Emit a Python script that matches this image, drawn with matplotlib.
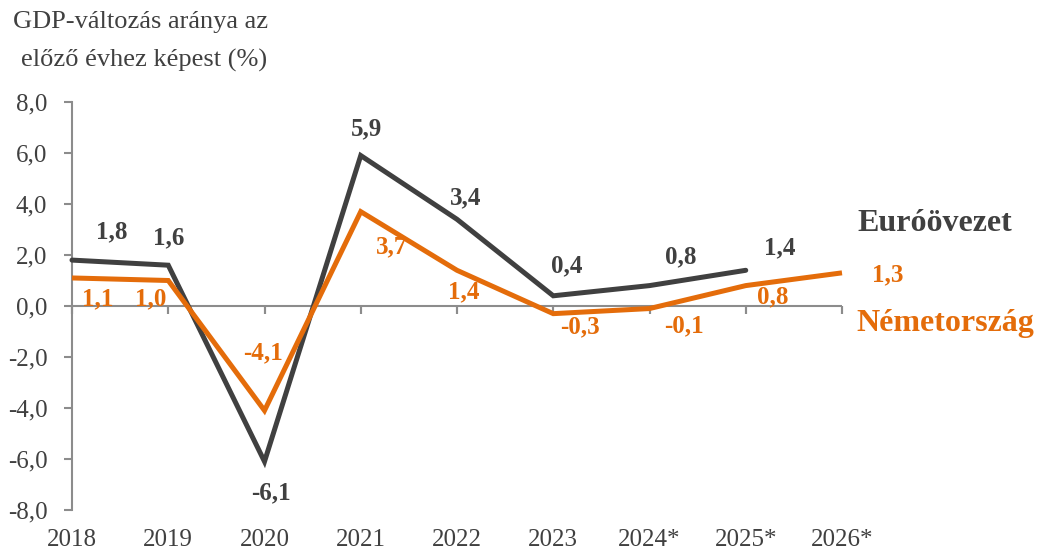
import matplotlib
matplotlib.use("Agg")
import matplotlib.pyplot as plt
import numpy as np

years = ["2018", "2019", "2020", "2021", "2022", "2023", "2024*", "2025*", "2026*"]
euro = [1.8, 1.6, -6.1, 5.9, 3.4, 0.4, 0.8, 1.4]
germany = [1.1, 1.0, -4.1, 3.7, 1.4, -0.3, -0.1, 0.8, 1.3]
yticks = [-8, -6, -4, -2, 0, 2, 4, 6, 8]

# label offsets in pixels (dx, dy), dy positive = down
euro_off = [(40, -28), (0, -27), (6, 31), (6, -27), (9, -21), (13, -30), (31, -29), (34, -22)]
ger_off = [(26, 21), (-18, 18), (-2, -58), (31, 35), (7, 22), (27, 13), (34, 17), (27, 11), (46, 2)]

DARK = "#404040"
ORANGE = "#E46C0A"
AXIS = "#8C8C8C"
FONT = "Liberation Serif"

plt.rcParams['font.family'] = [FONT, 'DejaVu Serif']

fig = plt.figure(figsize=(10.4, 5.5), dpi=100)
ax = fig.add_axes([72/1040, 1-510/550, (842-72)/1040, (510-102)/550])

x_e = np.arange(len(euro))
x_g = np.arange(len(germany))
ax.plot(x_e, euro, color=DARK, lw=3.6, solid_capstyle='round', solid_joinstyle='miter', zorder=3, clip_on=False)
ax.plot(x_g, germany, color=ORANGE, lw=3.6, solid_capstyle='butt', solid_joinstyle='miter', zorder=4, clip_on=False)

def fmt(v):
    return f"{v:.1f}".replace(".", ",")

for i, v in enumerate(euro):
    dx, dy = euro_off[i]
    ax.annotate(fmt(v), (i, v), xytext=(dx, -dy), textcoords='offset pixels',
                ha='center', va='center', fontsize=18, fontweight='bold', color=DARK, annotation_clip=False)
for i, v in enumerate(germany):
    dx, dy = ger_off[i]
    ax.annotate(fmt(v), (i, v), xytext=(dx, -dy), textcoords='offset pixels',
                ha='center', va='center', fontsize=18, fontweight='bold', color=ORANGE, annotation_clip=False)

ax.set_xlim(0, len(years) - 1)
ax.set_ylim(-8, 8)
ax.set_yticks(yticks)
ax.set_yticklabels([fmt(t) for t in yticks], fontsize=18, color=DARK)
ax.set_xticks(np.arange(len(years)))
ax.set_xticklabels([])

for s in ['top', 'right', 'bottom']:
    ax.spines[s].set_visible(False)
ax.spines['left'].set_color(AXIS)
ax.spines['left'].set_linewidth(1.5)
ax.axhline(0, color=AXIS, lw=1.5, zorder=2)
ax.tick_params(axis='y', direction='out', length=5.8, width=1.5, color=AXIS, pad=12)
ax.tick_params(axis='x', length=0)

# x tick marks on zero line, pointing down
for i in range(len(years)):
    ax.plot([i, i], [0, 0], marker=3, markersize=6, mew=1.5, color=AXIS, clip_on=False, zorder=2)

# category labels at bottom
for i, y in enumerate(years):
    ax.annotate(y, (i, -8), xytext=(0, -30), textcoords='offset pixels', ha='center', va='center',
                fontsize=18, color=DARK, annotation_clip=False)

fig.text(141/1040, 1-22/550, "GDP-változás aránya az", ha='center', va='center', fontsize=19, color=DARK)
fig.text(144/1040, 1-60/550, "előző évhez képest (%)", ha='center', va='center', fontsize=19, color=DARK)

fig.text(935/1040, 1-223/550, "Euróövezet", ha='center', va='center', fontsize=23, fontweight='bold', color=DARK)
fig.text(945/1040, 1-323/550, "Németország", ha='center', va='center', fontsize=23, fontweight='bold', color=ORANGE)

fig.savefig("out.png", dpi=100)
